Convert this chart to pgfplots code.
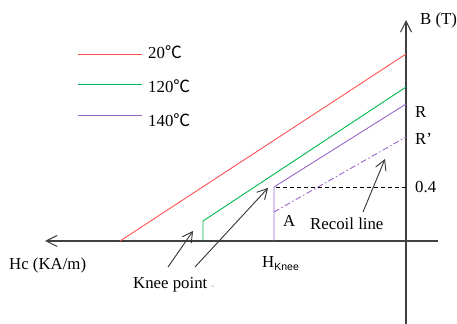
\documentclass[border=0pt]{standalone}
\usepackage{pgfplots}
\pgfplotsset{compat=1.18}
\usetikzlibrary{arrows.meta}
\usepackage{fontspec}
\setmainfont{Liberation Serif}
\newfontfamily\cjk{Noto Sans CJK SC}
\newfontfamily\subfont{Liberation Sans}

\definecolor{c20}{HTML}{FF5050}
\definecolor{c120}{HTML}{00B850}
\definecolor{c140}{HTML}{9966CC}
\definecolor{axisgray}{HTML}{404040}

% schematic: 1 unit = 1 px of the original drawing, origin at the axes crossing
\newcommand{\degc}{{\cjk ℃}}

\begin{document}
\begin{tikzpicture}
\useasboundingbox (0,0) rectangle (457bp,324bp);
\begin{axis}[
    at={(0,0)}, anchor=south west,
    scale only axis,
    width=457bp, height=324bp,
    xmin=-406, xmax=51,
    ymin=-83, ymax=241,
    axis lines=none,
    ticks=none,
    clip=false,
    font=\fontsize{16.8bp}{19bp}\selectfont,
    every axis plot/.append style={line width=0.9bp},
]
% axes
\addplot[axisgray, line width=1.1bp, -{Straight Barb[length=11bp,width=11bp]}]
    coordinates {(0,-83) (0,221)};
\addplot[axisgray, line width=1.1bp, -{Straight Barb[length=11bp,width=11bp]}]
    coordinates {(32,0) (-361,0)};

% demagnetization curves
\addplot[c20] coordinates {(-286,0) (0,187)};
\addplot[c120] coordinates {(-203,0) (-203,20) (0,154)};
\addplot[c140] coordinates {(-132,0) (-132,54) (0,137)};
% recoil line
\addplot[c140, dash pattern=on 6bp off 2.5bp on 1.5bp off 2.5bp]
    coordinates {(-132,29) (0,104)};
% 0.4 T level
\addplot[black, line width=0.7bp, dash pattern=on 4bp off 3bp]
    coordinates {(-130,54) (0,54)};

% annotation arrows
\addplot[black!80, line width=0.9bp, -{Straight Barb[length=10bp,width=11bp]}]
    coordinates {(-238,-26) (-213,10)};
\addplot[black!80, line width=0.9bp, -{Straight Barb[length=10bp,width=11bp]}]
    coordinates {(-211,-26) (-138,53)};
\addplot[black!80, line width=0.9bp, -{Straight Barb[length=10bp,width=11bp]}]
    coordinates {(-43,29) (-21,82)};

% legend
\addplot[c20] coordinates {(-328,187) (-264,187)};
\addplot[c120] coordinates {(-328,157) (-264,157)};
\addplot[c140] coordinates {(-328,126) (-264,126)};
\node[anchor=base west, inner sep=0pt] at (axis cs:-258,182) {20\degc};
\node[anchor=base west, inner sep=0pt] at (axis cs:-258,148) {120\degc};
\node[anchor=base west, inner sep=0pt] at (axis cs:-258,114) {140\degc};

% labels
\node[anchor=base west, inner sep=0pt] at (axis cs:14,216) {B (T)};
\node[anchor=base west, inner sep=0pt] at (axis cs:9,123) {R};
\node[anchor=base west, inner sep=0pt] at (axis cs:9,96) {R’};
\node[anchor=base west, inner sep=0pt] at (axis cs:9,48) {0.4};
\node[anchor=base west, inner sep=0pt] at (axis cs:-123,14) {A};
\node[anchor=base west, inner sep=0pt] at (axis cs:-96,11) {Recoil line};
\node[anchor=base west, inner sep=0pt] at (axis cs:-144,-27)
    {H\raisebox{-2.5bp}{\subfont\fontsize{10.5bp}{12bp}\selectfont Knee}};
\node[anchor=base west, inner sep=0pt] at (axis cs:-397,-29) {Hc (KA/m)};
\node[anchor=base west, inner sep=0pt] at (axis cs:-273,-48)
    {Knee point {\color{gray}\fontsize{8bp}{9bp}\selectfont -}};
\end{axis}
\end{tikzpicture}
\end{document}
